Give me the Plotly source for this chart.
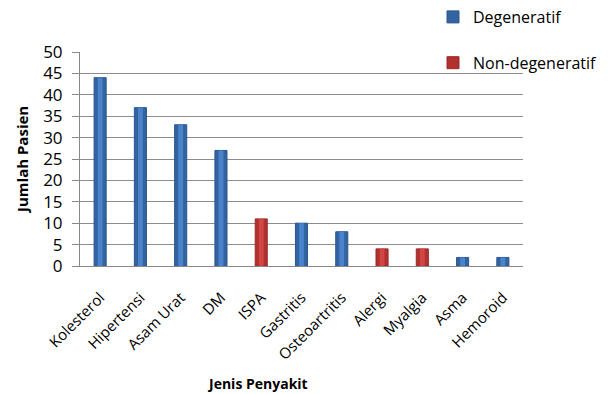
import plotly.graph_objects as go

categories = ["Kolesterol", "Hipertensi", "Asam Urat", "DM", "ISPA", "Gastritis",
              "Osteoartritis", "Alergi", "Myalgia", "Asma", "Hemoroid"]
degeneratif = [44, 37, 33, 27, None, 10, 8, None, None, 2, 2]
non_degeneratif = [None, None, None, None, 11, None, None, 4, 4, None, None]
y_ticks = [0, 5, 10, 15, 20, 25, 30, 35, 40, 45, 50]

font_family = "Open Sans, Liberation Sans, sans-serif"

fig = go.Figure()
fig.add_trace(go.Bar(
    x=categories, y=degeneratif, name="Degeneratif", width=0.3,
    marker=dict(color="#33649f", line=dict(color="#2a5690", width=1)),
    legendgroup="a",
))
fig.add_trace(go.Bar(
    x=categories, y=non_degeneratif, name="Non-degeneratif", width=0.3,
    marker=dict(color="#b1312f", line=dict(color="#9b2a2b", width=1)),
    legendgroup="b",
))
# lighter centre stripe to mimic the gradient shading of the bars
fig.add_trace(go.Bar(
    x=categories, y=degeneratif, width=0.12, showlegend=False, hoverinfo="skip",
    marker=dict(color="#4a82cc", line=dict(width=0)),
))
fig.add_trace(go.Bar(
    x=categories, y=non_degeneratif, width=0.12, showlegend=False, hoverinfo="skip",
    marker=dict(color="#cf4644", line=dict(width=0)),
))

fig.update_layout(
    width=613, height=394,
    margin=dict(l=80, r=90, t=52, b=128, autoexpand=False),
    paper_bgcolor="white", plot_bgcolor="white",
    barmode="overlay",
    font=dict(family=font_family, size=14, color="black"),
    legend=dict(
        x=433 / 613, xref="container", xanchor="left",
        y=1.0, yref="container", yanchor="top",
        tracegroupgap=22, font=dict(size=16, color="black"),
        bgcolor="rgba(0,0,0,0)",
    ),
    xaxis=dict(
        tickangle=-45, showgrid=False, showline=True, linecolor="#888888",
        linewidth=1, ticks="", tickfont=dict(size=15),
        ticklabelstandoff=16,
    ),
    yaxis=dict(
        range=[0, 50], tickvals=y_ticks, showgrid=True, gridcolor="#8c8c8c",
        gridwidth=1, showline=True, linecolor="#888888", linewidth=1,
        ticks="outside", ticklen=7, tickcolor="#888888",
        tickfont=dict(size=17), zeroline=False, ticklabelstandoff=6,
    ),
    annotations=[
        dict(
            text="<b>Jenis Penyakit</b>", xref="paper", yref="paper",
            x=(257 - 80) / 443, y=(266 - 383) / 214, xanchor="center", yanchor="middle",
            showarrow=False, font=dict(size=14, color="black"),
        ),
        dict(
            text="<b>Jumlah Pasien</b>", xref="paper", yref="paper",
            x=(22 - 80) / 443, y=(266 - 160) / 214, xanchor="center", yanchor="middle",
            textangle=-90, showarrow=False, font=dict(size=15, color="black"),
        ),
    ],
)

fig.write_html("out.html")
